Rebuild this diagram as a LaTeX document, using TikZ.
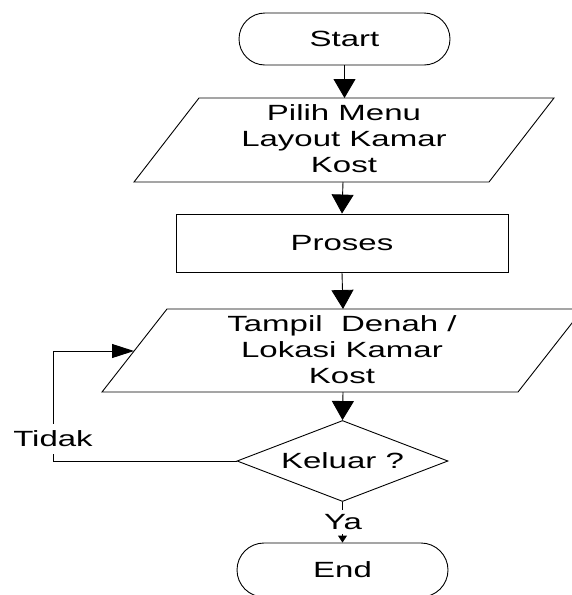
\documentclass[tikz,border=0pt]{standalone}
\usepackage{fontspec}
\setmainfont{Liberation Sans}[FakeStretch=1.5]
\usetikzlibrary{shapes.geometric,arrows.meta}
\begin{document}
\begin{tikzpicture}[x=1pt,y=-1pt,line width=0.9pt,
  txt/.style={font=\fontsize{22}{26}\selectfont, align=center, inner sep=0pt},
  term/.style={txt, draw, rectangle, rounded corners=26pt, minimum width=211pt, minimum height=52pt},
  procbox/.style={txt, draw, rectangle, minimum width=332pt, minimum height=58pt},
  decbox/.style={txt, draw, diamond, aspect=2.6, minimum width=211pt, minimum height=81pt},
  lbl/.style={txt, fill=white},
  varrow/.style={-{Triangle[width=22pt,length=19pt]}},
  harrow/.style={-{Triangle[width=14pt,length=22pt]}},
  sarrow/.style={-{Triangle[width=9pt,length=7pt]}}]
\useasboundingbox (0,0) rectangle (572,595);
\clip (0,0) rectangle (572,595);
% shapes
\node[term] (start) at (344.5,39) {Start};
\draw (199,98) -- (554,98) -- (489,182) -- (134,182) -- cycle;
\node[txt] (p1) at (344,139) {Pilih Menu\\Layout Kamar\\Kost};
\coordinate (p1n) at (344.5,98);
\coordinate (p1s) at (343,182);
\node[procbox] (proses) at (342,243) {Proses};
\coordinate (p2n) at (343,309);
\draw (167,309) -- (583,309) -- (518,392) -- (102,392) -- cycle;
\node[txt] (p2) at (342,350) {Tampil\ \ Denah /\\Lokasi Kamar\\Kost};
\coordinate (p2s) at (343,392);
\coordinate (p2w) at (134,351);
\node[decbox] (dec) at (342.5,461) {Keluar ?};
\node[term, minimum height=54pt, rounded corners=27pt] (end) at (342.5,570) {End};
\coordinate (bend1) at (53,461);
\coordinate (bend2) at (53,351);
% connectors
\draw[varrow] (start.south) -- (p1n);
\draw[varrow] (p1s) -- (proses.north);
\draw[varrow] (proses.south) -- (p2n);
\draw[varrow] (p2s) -- (dec.north);
\draw[harrow] (dec.west) -- (bend1) -- (bend2) -- (p2w);
\draw[sarrow] (dec.south) -- (end.north);
% labels
\node[lbl, inner xsep=2pt, inner ysep=7pt] (tidak) at (53,439) {Tidak};
\node[lbl, inner xsep=2pt, inner ysep=4pt] (ya) at (343,522) {Ya};
\end{tikzpicture}
\end{document}
